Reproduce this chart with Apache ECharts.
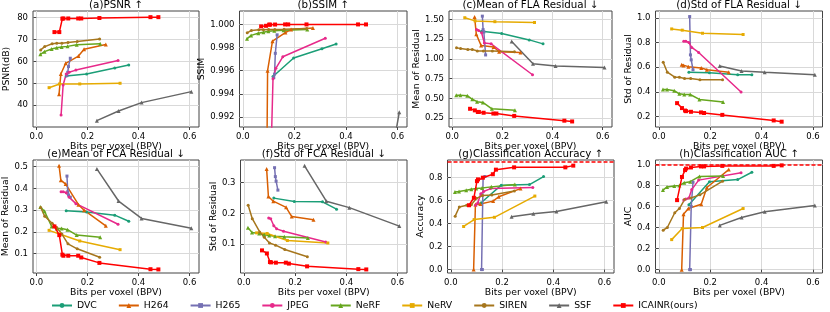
<!DOCTYPE html>
<html><head><meta charset="utf-8">
<script src="https://cdn.jsdelivr.net/npm/echarts@6/dist/echarts.min.js"></script>
<style>html,body{margin:0;padding:0;background:#fff}#c{width:830px;height:312px}</style>
</head><body><div id="c"></div>
<script>
// ---- data ----
const methods = ['DVC','H264','H265','JPEG','NeRF','NeRV','SIREN','SSF','ICAINR(ours)'];
const colors  = ['#1b9e77','#d95f02','#7570b3','#e7298a','#66a61e','#e6ab02','#a6761d','#666666','#ff0000'];
const markers = ['circle','triangle','rect','circle','triangle','rect','circle','triangle','rect'];

const bpv = [
  [0.117, 0.197, 0.307, 0.362],
  [0.089, 0.096, 0.115, 0.165, 0.187, 0.272],
  [0.120, 0.123, 0.126, 0.133],
  [0.097, 0.105, 0.117, 0.128, 0.155, 0.32],
  [0.016, 0.032, 0.06, 0.08, 0.099, 0.122, 0.158, 0.25],
  [0.05, 0.091, 0.17, 0.328],
  [0.017, 0.033, 0.062, 0.08, 0.1, 0.124, 0.16, 0.248],
  [0.237, 0.322, 0.412, 0.607],
  [0.071, 0.09, 0.102, 0.106, 0.125, 0.164, 0.176, 0.247, 0.447, 0.478]
];
const psnr = [
  [53.3, 54.2, 57.0, 58.3],
  [45.0, 54.2, 59.1, 62.4, 65.5, 67.7],
  [53.5, 55.0, 57.6, 61.4],
  [35.6, 49.2, 54.2, 55.0, 56.0, 60.4],
  [63.2, 64.4, 65.6, 66.2, 66.5, 66.8, 67.5, 68.0],
  [48.0, 49.7, 49.7, 50.0],
  [65.2, 66.7, 68.0, 68.2, 68.2, 68.6, 69.0, 70.2],
  [33.0, 37.4, 41.2, 46.2],
  [73.3, 73.3, 79.4, 79.5, 79.5, 79.5, 79.5, 79.7, 80.1, 80.1]
];
const ssim = [
  [0.9955, 0.9971, 0.9979, 0.9983],
  [0.977, 0.9960, 0.99855, 0.9993, 0.99955, 0.9997],
  [0.9954, 0.9957, 0.9975, 0.9991],
  [0.96, 0.985, 0.9953, 0.9962, 0.9972, 0.9988],
  [0.99875, 0.99905, 0.99924, 0.99933, 0.9994, 0.99945, 0.9995, 0.99955],
  [0.975, 0.982, 0.983, 0.985],
  [0.99927, 0.99948, 0.99953, 0.99954, 0.99955, 0.99956, 0.99958, 0.99965],
  [0.92, 0.95, 0.9676, 0.9924],
  [0.99983, 0.99988, 0.99998, 0.99998, 0.99999, 1.0, 1.0, 1.0, 1.0, 1.0]
];
const meanFLA = [
  [1.35, 1.32, 1.24, 1.19],
  [1.53, 1.31, 1.17, 1.15, 1.09, 1.08],
  [1.54, 1.37, 1.34, 1.05],
  [1.37, 1.36, 1.33, 1.20, 1.19, 0.80],
  [0.54, 0.54, 0.535, 0.49, 0.46, 0.45, 0.37, 0.35],
  [1.52, 1.48, 1.47, 1.46],
  [1.14, 1.13, 1.12, 1.12, 1.10, 1.10, 1.10, 1.09],
  [1.22, 0.94, 0.91, 0.89],
  [0.37, 0.35, 0.33, 0.33, 0.32, 0.31, 0.31, 0.28, 0.22, 0.21]
];
const stdFLA = [
  [0.56, 0.555, 0.54, 0.54],
  [0.62, 0.615, 0.605, 0.595, 0.58, 0.56],
  [1.01, 0.70, 0.66, 0.58],
  [0.81, 0.81, 0.80, 0.76, 0.72, 0.40],
  [0.42, 0.42, 0.41, 0.385, 0.38, 0.38, 0.34, 0.32],
  [0.91, 0.90, 0.875, 0.865],
  [0.64, 0.56, 0.52, 0.52, 0.51, 0.51, 0.50, 0.50],
  [0.61, 0.57, 0.56, 0.54],
  [0.31, 0.27, 0.25, 0.245, 0.24, 0.235, 0.23, 0.215, 0.17, 0.16]
];
const meanFCA = [
  [0.297, 0.292, 0.277, 0.249],
  [0.505, 0.438, 0.42, 0.325, 0.30, 0.228],
  [0.457, 0.385, 0.37, 0.36],
  [0.385, 0.385, 0.38, 0.36, 0.33, 0.235],
  [0.315, 0.295, 0.225, 0.215, 0.215, 0.21, 0.185, 0.175],
  [0.207, 0.19, 0.158, 0.118],
  [0.312, 0.272, 0.24, 0.22, 0.19, 0.145, 0.122, 0.083],
  [0.49, 0.342, 0.262, 0.217],
  [0.225, 0.185, 0.095, 0.09, 0.09, 0.09, 0.082, 0.057, 0.028, 0.027]
];
const stdFCA = [
  [0.25, 0.239, 0.238, 0.214],
  [0.345, 0.255, 0.24, 0.22, 0.19, 0.18],
  [0.349, 0.32, 0.305, 0.276],
  [0.185, 0.183, 0.16, 0.15, 0.142, 0.107],
  [0.154, 0.138, 0.135, 0.131, 0.128, 0.126, 0.124, 0.12],
  [0.137, 0.135, 0.112, 0.104],
  [0.227, 0.183, 0.14, 0.123, 0.104, 0.097, 0.083, 0.059],
  [0.355, 0.24, 0.219, 0.159],
  [0.08, 0.07, 0.042, 0.041, 0.04, 0.04, 0.037, 0.028, 0.019, 0.018]
];
const accuracy = [
  [0.58, 0.735, 0.74, 0.81],
  [0.0, 0.567, 0.57, 0.596, 0.634, 0.705],
  [0.0, 0.0, 0.8, 0.81],
  [0.56, 0.58, 0.66, 0.68, 0.705, 0.715],
  [0.675, 0.68, 0.69, 0.70, 0.705, 0.71, 0.72, 0.74],
  [0.375, 0.435, 0.455, 0.64],
  [0.465, 0.545, 0.56, 0.565, 0.62, 0.645, 0.65, 0.685],
  [0.46, 0.485, 0.505, 0.59],
  [0.56, 0.625, 0.77, 0.785, 0.80, 0.83, 0.87, 0.89, 0.89, 0.905]
];
const auc = [
  [0.615, 0.835, 0.855, 0.925],
  [0.0, 0.525, 0.58, 0.62, 0.78, 0.95],
  [0.0, 0.0, 0.6, 0.83],
  [0.66, 0.67, 0.68, 0.76, 0.85, 0.92],
  [0.755, 0.785, 0.795, 0.80, 0.825, 0.835, 0.885, 0.89],
  [0.285, 0.39, 0.40, 0.58],
  [0.375, 0.40, 0.54, 0.58, 0.665, 0.68, 0.71, 0.84],
  [0.42, 0.495, 0.55, 0.61],
  [0.66, 0.88, 0.945, 0.96, 0.97, 0.98, 0.98, 0.985, 0.985, 0.99]
];
const refAccuracy = 0.945;
const refAUC = 1.0;

const titles = ['(a)PSNR \u2191','(b)SSIM \u2191','(c)Mean of FLA Residual \u2193','(d)Std of FLA Residual \u2193',
                '(e)Mean of FCA Residual \u2193','(f)Std of FCA Residual \u2193','(g)Classification Accuracy \u2191','(h)Classification AUC \u2191'];
const yNames = ['PSNR(dB)','SSIM','Mean of Residual','Std of Residual','Mean of Residual','Std of Residual','Accuracy','AUC'];
const xName = 'Bits per voxel (BPV)';
const xTicks = [0.0, 0.2, 0.4, 0.6];
const yTicks = [
  [40, 50, 60, 70, 80],
  [0.992, 0.994, 0.996, 0.998, 1.000],
  [0.25, 0.50, 0.75, 1.00, 1.25, 1.50],
  [0.2, 0.4, 0.6, 0.8, 1.0],
  [0.1, 0.2, 0.3, 0.4, 0.5],
  [0.1, 0.2, 0.3],
  [0.0, 0.2, 0.4, 0.6, 0.8],
  [0.0, 0.2, 0.4, 0.6, 0.8, 1.0]
];
const metrics = [psnr, ssim, meanFLA, stdFLA, meanFCA, stdFCA, accuracy, auc];

// ---- layout ----
const yRange = [[30.1, 82.9],[0.99113, 1.00116],[0.14, 1.605],[0.117, 1.055],[0.0105, 0.531],[0.0064, 0.374],[-0.03, 0.954],[-0.032, 1.041]];
const yDec = [0, 3, 2, 1, 1, 1, 1, 1];
const xRange = [-0.013, 0.637];
const grids = [
  [33, 11, 166, 116],[239.5, 11, 167.5, 116],[449, 11, 163, 116],[655.5, 11, 167, 116],
  [33, 160, 166, 113],[240.5, 160, 166.5, 113],[447.5, 160, 166.5, 113],[655.5, 160, 167, 113]
];
const yNameGap = [22, 28.5, 24, 21.5, 20, 19.5, 18.5, 20];
const FONT = 'DejaVu Sans';

const option = {
  animation: false,
  backgroundColor: '#fff',
  textStyle: {fontFamily: FONT},
  title: [], grid: [], xAxis: [], yAxis: [], series: [],
  legend: {
    data: methods, left: 46, top: 296, itemWidth: 20, itemHeight: 6, itemGap: 21,
    textStyle: {fontFamily: FONT, fontSize: 9.3, color: '#000'}
  }
};

grids.forEach((g, p) => {
  option.grid.push({left: g[0], top: g[1], width: g[2], height: g[3], show: true,
    borderColor: '#444', borderWidth: 1, backgroundColor: 'transparent', containLabel: false});
  option.title.push({text: titles[p], left: g[0] + g[2] / 2, top: g[1] - 11, textAlign: 'center', padding: 0,
    textStyle: {fontFamily: FONT, fontSize: 10.3, fontWeight: 'normal', color: '#000'}});
  option.xAxis.push({type: 'value', gridIndex: p, min: xRange[0], max: xRange[1],
    name: xName, nameLocation: 'middle', nameGap: 12,
    nameTextStyle: {fontFamily: FONT, fontSize: 9.3, color: '#000'},
    axisLine: {show: false},
    axisTick: {show: true, customValues: xTicks, length: 3, lineStyle: {color: '#444'}},
    axisLabel: {customValues: xTicks, margin: 5, fontSize: 8.5, color: '#000', fontFamily: FONT,
      formatter: v => v.toFixed(1)},
    splitLine: {show: true, lineStyle: {color: '#d9d9d9', width: 1}}
  });
  const d = yDec[p];
  option.yAxis.push({type: 'value', gridIndex: p, min: yRange[p][0], max: yRange[p][1],
    name: yNames[p], nameLocation: 'middle', nameGap: yNameGap[p], nameRotate: 90,
    nameTextStyle: {fontFamily: FONT, fontSize: 9.3, color: '#000'},
    axisLine: {show: false},
    axisTick: {show: true, customValues: yTicks[p], length: 3, lineStyle: {color: '#444'}},
    axisLabel: {customValues: yTicks[p], margin: 5, fontSize: 8.5, color: '#000', fontFamily: FONT,
      formatter: v => v.toFixed(d)},
    splitLine: {show: true, lineStyle: {color: '#d9d9d9', width: 1}}
  });
  methods.forEach((m, k) => {
    const s = {
      type: 'line', name: m, xAxisIndex: p, yAxisIndex: p,
      data: bpv[k].map((x, i) => [x, metrics[p][k][i]]),
      symbol: markers[k], symbolSize: k === 8 ? 4 : (markers[k] === 'triangle' ? 4 : 3),
      showSymbol: true, clip: true, silent: true,
      itemStyle: {color: colors[k]},
      lineStyle: {color: colors[k], width: 1.5},
      emphasis: {disabled: true}, z: k === 8 ? 5 : 3
    };
    if (k === 8 && (p === 6 || p === 7)) {
      s.markLine = {symbol: 'none', silent: true, label: {show: false},
        lineStyle: {color: '#ff0000', type: [4, 2], width: 1.5},
        data: [{yAxis: p === 6 ? refAccuracy : refAUC}]};
    }
    option.series.push(s);
  });
});

const chart = echarts.init(document.getElementById('c'), null, {renderer: 'canvas'});
chart.setOption(option);
</script></body></html>
